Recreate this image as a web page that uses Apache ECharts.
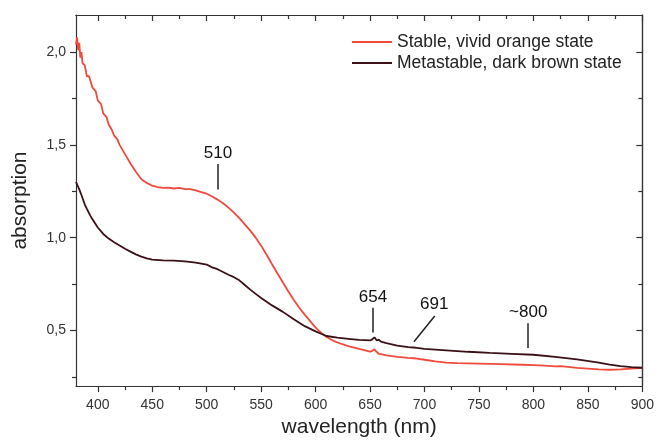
<!DOCTYPE html>
<html>
<head>
<meta charset="utf-8">
<script src="https://cdn.jsdelivr.net/npm/echarts@6/dist/echarts.min.js"></script>
<style>
  html, body { margin: 0; padding: 0; background: #fff; }
  #chart { width: 657px; height: 443px; }
</style>
</head>
<body>
<div id="chart"></div>
<script>
// stable (orange) spectrum
var stableNm = [380,381,382,383,384,385,386,388,390,392,395,398,400,403,405,408,410,413,415,418,420,425,430,435,440,445,450,455,460,465,470,475,480,485,490,495,500,505,510,515,520,525,530,535,540,545,550,555,560,565,570,575,580,585,590,595,600,605,610,615,620,630,640,650,652,654,656,658,660,665,675,685,690,691,693,700,710,720,730,750,770,790,800,810,820,825,840,860,870,880,893,900];
var stableAbs = [2.04,2.08,2.01,2.05,1.97,2.00,1.94,1.93,1.87,1.87,1.81,1.79,1.74,1.72,1.67,1.65,1.61,1.58,1.55,1.53,1.50,1.45,1.40,1.355,1.315,1.295,1.28,1.272,1.268,1.27,1.265,1.268,1.262,1.262,1.255,1.245,1.237,1.222,1.205,1.185,1.162,1.135,1.105,1.072,1.038,1.0,0.957,0.908,0.857,0.807,0.758,0.71,0.664,0.622,0.585,0.55,0.515,0.488,0.465,0.448,0.435,0.416,0.40,0.386,0.39,0.398,0.385,0.374,0.372,0.366,0.358,0.352,0.35,0.356,0.348,0.342,0.333,0.327,0.324,0.321,0.318,0.315,0.313,0.31,0.306,0.308,0.298,0.29,0.288,0.29,0.296,0.297];

// metastable (dark brown) spectrum
var metaNm = [380,383,385,388,390,393,395,400,405,410,415,420,425,430,435,440,445,450,460,470,480,490,500,505,510,515,520,525,530,535,540,545,550,560,570,580,590,600,605,610,620,630,640,650,652,654,656,658,660,665,675,685,690,691,693,700,720,740,760,780,800,820,840,860,870,880,890,900];
var metaAbs = [1.30,1.26,1.23,1.18,1.155,1.12,1.10,1.055,1.02,0.995,0.975,0.958,0.94,0.925,0.91,0.898,0.888,0.882,0.878,0.876,0.872,0.866,0.855,0.84,0.83,0.815,0.80,0.787,0.77,0.745,0.72,0.697,0.675,0.635,0.6,0.56,0.523,0.495,0.482,0.47,0.461,0.455,0.449,0.446,0.452,0.463,0.447,0.45,0.44,0.432,0.418,0.41,0.408,0.414,0.406,0.401,0.393,0.385,0.379,0.374,0.369,0.358,0.344,0.326,0.316,0.308,0.302,0.299];

// axis ticks
var xMajor = [400,450,500,550,600,650,700,750,800,850,900];
var xMinor = [425,475,525,575,625,675,725,775,825,875];
var yMajor = [0.5,1.0,1.5,2.0];
var yMinor = [0.25,0.75,1.25,1.75];

// peak annotations
var peakNames = ['510','654','691','~800'];
var peakTextAt = [[510.3,1.455],[652.7,0.68],[709,0.643],[795.2,0.599]];
var peakLines = [
  [[510.3,1.397],[510.3,1.26]],
  [[652.7,0.622],[652.7,0.489]],
  [[709.4,0.578],[690.3,0.439]],
  [[795.2,0.539],[795.2,0.406]]
];

function pairs(xs, ys){
  var out = [];
  for (var i = 0; i < xs.length; i++) out.push([xs[i], ys[i]]);
  return out;
}

var fontFam = 'Liberation Sans, Arial, sans-serif';
var axisCol = '#333';

function xAx(pos, ticks, len, inside, main){
  return {
    type: 'value', position: pos, min: 380, max: 900,
    axisLine: { show: !!main || pos === 'top', onZero: false, lineStyle: { color: axisCol, width: 1.2 } },
    axisTick: { show: true, inside: inside, length: len, customValues: ticks, lineStyle: { color: axisCol, width: 1.2 } },
    axisLabel: main ? { show: true, customValues: xMajor, margin: 12, fontSize: 14, color: '#333', fontFamily: fontFam } : { show: false },
    splitLine: { show: false },
    name: main ? 'wavelength (nm)' : '',
    nameLocation: 'middle', nameGap: 30,
    nameTextStyle: { fontSize: 21, color: '#222', fontFamily: fontFam }
  };
}
function yAx(pos, ticks, len, inside, main){
  return {
    type: 'value', position: pos, min: 0.2, max: 2.2,
    axisLine: { show: !!main || pos === 'right', onZero: false, lineStyle: { color: axisCol, width: 1.2 } },
    axisTick: { show: true, inside: inside, length: len, customValues: ticks, lineStyle: { color: axisCol, width: 1.2 } },
    axisLabel: main ? { show: true, customValues: yMajor, margin: 10, fontSize: 14, color: '#333', fontFamily: fontFam,
      formatter: function(v){ return v.toFixed(1).replace('.', ','); } } : { show: false },
    splitLine: { show: false },
    name: main ? 'absorption' : '',
    nameLocation: 'middle', nameGap: 45,
    nameTextStyle: { fontSize: 21, color: '#222', fontFamily: fontFam }
  };
}

var chart = echarts.init(document.getElementById('chart'));
var option = {
  animation: false,
  backgroundColor: '#fff',
  grid: { left: 76, right: 9, top: 15, bottom: 52, containLabel: false },
  legend: {
    orient: 'vertical', left: 352, top: 33, padding: 0,
    icon: 'rect', itemWidth: 40, itemHeight: 2, itemGap: 3,
    textStyle: { fontSize: 17.5, color: '#222', fontFamily: fontFam, lineHeight: 18 },
    data: ['Stable, vivid orange state', 'Metastable, dark brown state']
  },
  xAxis: [
    xAx('bottom', xMajor, 6, false, true),
    xAx('bottom', xMinor, 4, false, false),
    xAx('top', xMajor, 6, true, false),
    xAx('top', xMinor, 4, true, false)
  ],
  yAxis: [
    yAx('left', yMajor, 6, false, true),
    yAx('left', yMinor, 4, false, false),
    yAx('right', yMajor, 6, true, false),
    yAx('right', yMinor, 4, true, false)
  ],
  series: [
    {
      name: 'Stable, vivid orange state', type: 'line', showSymbol: false, symbol: 'none',
      data: pairs(stableNm, stableAbs), color: '#ef4a3c',
      lineStyle: { color: '#ef4a3c', width: 1.8 }
    },
    {
      name: 'Metastable, dark brown state', type: 'line', showSymbol: false, symbol: 'none',
      data: pairs(metaNm, metaAbs), color: '#3b1016',
      lineStyle: { color: '#3b1016', width: 1.8 }
    },
    {
      type: 'lines', coordinateSystem: 'cartesian2d', silent: true,
      lineStyle: { color: '#222', width: 1.5, opacity: 1 },
      data: peakLines.map(function(c){ return { coords: c }; })
    },
    {
      type: 'scatter', symbolSize: 1, silent: true,
      itemStyle: { color: 'rgba(0,0,0,0)', opacity: 1 },
      label: { show: true, position: 'inside', fontSize: 17, color: '#111', opacity: 1, fontFamily: fontFam,
        formatter: function(p){ return p.name; } },
      data: peakNames.map(function(n, i){ return { name: n, value: peakTextAt[i] }; })
    }
  ]
};
chart.setOption(option);
</script>
</body>
</html>
